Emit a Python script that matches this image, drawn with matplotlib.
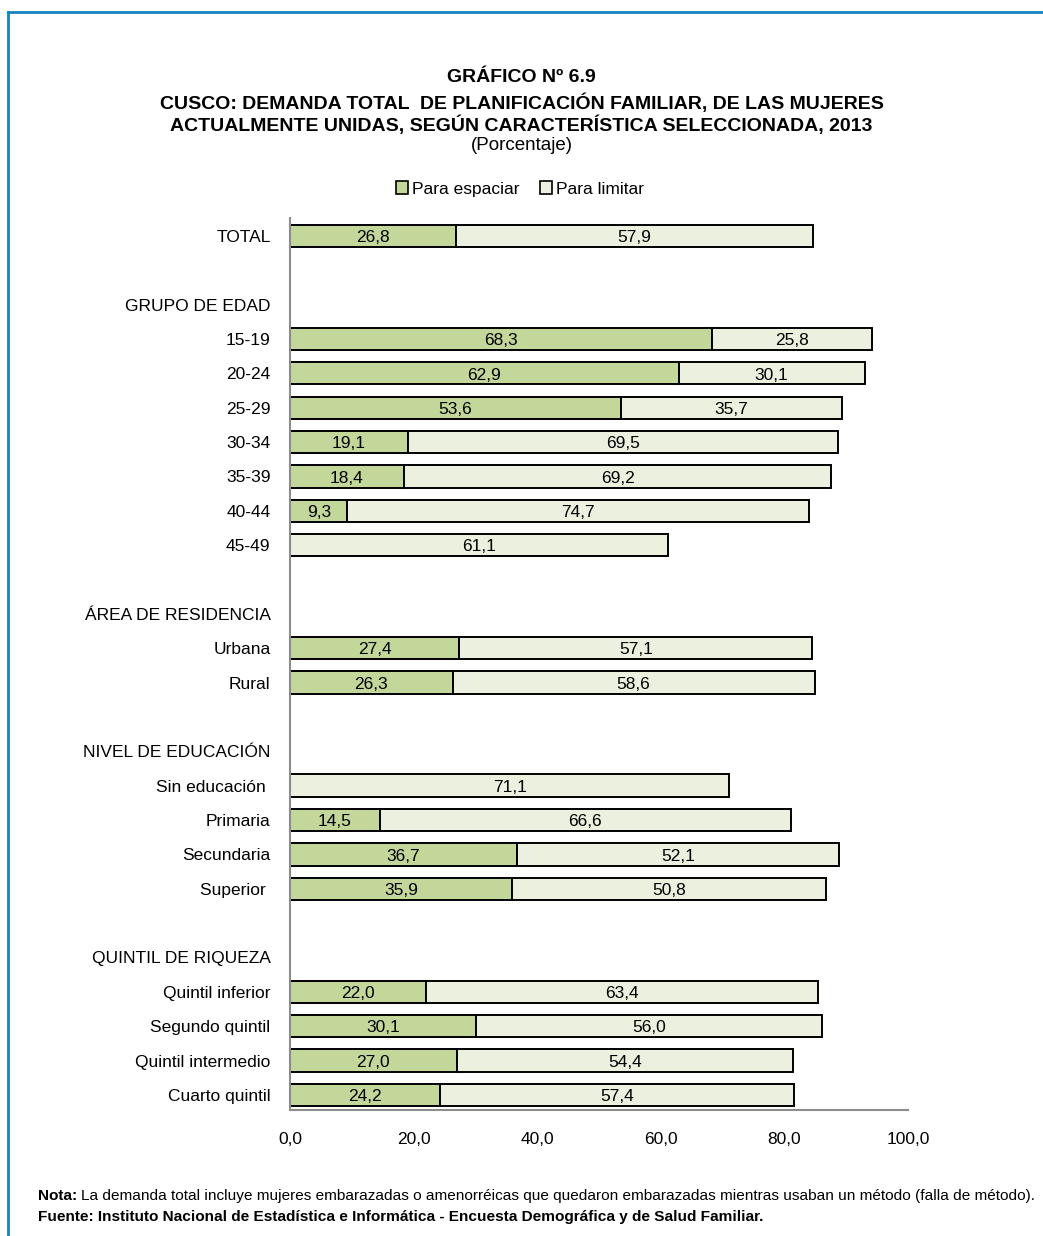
import matplotlib
matplotlib.use("Agg")
import matplotlib.pyplot as plt
from matplotlib import font_manager
from matplotlib.patches import Patch
import numpy as np

# narrow sans if available, otherwise regular Liberation Sans
names = {f.name for f in font_manager.fontManager.ttflist}
FONT = "Liberation Sans Narrow" if "Liberation Sans Narrow" in names else "Liberation Sans"
plt.rcParams["font.family"] = [FONT, "DejaVu Sans"]

categories = [
    "TOTAL", "", "GRUPO DE EDAD",
    "15-19", "20-24", "25-29", "30-34", "35-39", "40-44", "45-49", "",
    "ÁREA DE RESIDENCIA", "Urbana", "Rural", "",
    "NIVEL DE EDUCACIÓN", "Sin educación ", "Primaria", "Secundaria", "Superior ", "",
    "QUINTIL DE RIQUEZA", "Quintil inferior", "Segundo quintil",
    "Quintil intermedio", "Cuarto quintil",
]
# None = no bar for that row
espaciar = [
    26.8, None, None,
    68.3, 62.9, 53.6, 19.1, 18.4, 9.3, None, None,
    None, 27.4, 26.3, None,
    None, None, 14.5, 36.7, 35.9, None,
    None, 22.0, 30.1, 27.0, 24.2,
]
limitar = [
    57.9, None, None,
    25.8, 30.1, 35.7, 69.5, 69.2, 74.7, 61.1, None,
    None, 57.1, 58.6, None,
    None, 71.1, 66.6, 52.1, 50.8, None,
    None, 63.4, 56.0, 54.4, 57.4,
]
xticks = [0, 20, 40, 60, 80, 100]

GREEN = "#C4D79B"
PALE = "#EBF1DE"


def fmt(v):
    return f"{v:.1f}".replace(".", ",")


fig = plt.figure(figsize=(10.43, 12.36), dpi=100)
W, H = 1043, 1236
ax = fig.add_axes([290 / W, 1 - 1110 / H, (908 - 290) / W, (1110 - 218) / H])

y = np.arange(len(categories))
bh = 0.65
for i in y:
    e = espaciar[i] or 0.0
    l = limitar[i]
    if espaciar[i]:
        ax.barh(i, e, height=bh, color=GREEN, edgecolor="black", linewidth=1.4)
        ax.text(e / 2, i + 0.05, fmt(e), ha="center", va="center", fontsize=12.5)
    if l:
        ax.barh(i, l, left=e, height=bh, color=PALE, edgecolor="black", linewidth=1.4)
        ax.text(e + l / 2, i + 0.05, fmt(l), ha="center", va="center", fontsize=12.5)

ax.set_ylim(25.44, -0.52)
ax.set_xlim(0, 100)
ax.set_yticks(y)
ax.set_yticklabels(categories, fontsize=12.5)
ax.set_xticks(xticks)
ax.set_xticklabels([fmt(t) for t in xticks], fontsize=12.5)
ax.tick_params(axis="both", length=0)
ax.tick_params(axis="y", pad=14)
ax.tick_params(axis="x", pad=16)
for side in ("top", "right"):
    ax.spines[side].set_visible(False)
for side in ("left", "bottom"):
    ax.spines[side].set_color("#8c8c8c")
    ax.spines[side].set_linewidth(1.5)

# titles
fig.text(0.5, 1 - 77 / H, "GRÁFICO Nº 6.9", ha="center", va="center",
         fontsize=14, fontweight="bold")
fig.text(0.5, 1 - 103 / H, "CUSCO: DEMANDA TOTAL  DE PLANIFICACIÓN FAMILIAR, DE LAS MUJERES",
         ha="center", va="center", fontsize=14, fontweight="bold")
fig.text(0.5, 1 - 125 / H, "ACTUALMENTE UNIDAS, SEGÚN CARACTERÍSTICA SELECCIONADA, 2013",
         ha="center", va="center", fontsize=14, fontweight="bold")
fig.text(0.5, 1 - 145 / H, "(Porcentaje)", ha="center", va="center", fontsize=13.5)

handles = [Patch(facecolor=GREEN, edgecolor="black", linewidth=1.2, label="Para espaciar"),
           Patch(facecolor=PALE, edgecolor="black", linewidth=1.2, label="Para limitar")]
fig.legend(handles=handles, loc="center", bbox_to_anchor=(520 / W, 1 - 189 / H),
           ncol=2, frameon=False, fontsize=12.5, handlelength=0.7, handleheight=0.7,
           handletextpad=0.2, columnspacing=1.2)

# notes: bold lead word, then the rest placed right after it
nota = fig.text(38 / W, 1 - 1196 / H, "Nota:", ha="left", va="center",
                fontsize=11.1, fontweight="bold")
fig.canvas.draw()
bb = nota.get_window_extent().transformed(fig.transFigure.inverted())
fig.text(bb.x1 + 4 / W, 1 - 1196 / H,
         "La demanda total incluye mujeres embarazadas o amenorréicas que quedaron "
         "embarazadas mientras usaban un método (falla de método).",
         ha="left", va="center", fontsize=11.1)
fig.text(38 / W, 1 - 1217 / H, "Fuente: Instituto Nacional de Estadística e Informática - "
         "Encuesta Demográfica y de Salud Familiar.",
         ha="left", va="center", fontsize=11.1, fontweight="bold")

# blue frame on top and left
frame = "#1585c0"
fig.add_artist(plt.Line2D([8 / W, 1], [1 - 12 / H, 1 - 12 / H], color=frame, lw=2,
                          transform=fig.transFigure))
fig.add_artist(plt.Line2D([8 / W, 8 / W], [0, 1 - 12 / H], color=frame, lw=2,
                          transform=fig.transFigure))

fig.savefig("out.png", dpi=100)
